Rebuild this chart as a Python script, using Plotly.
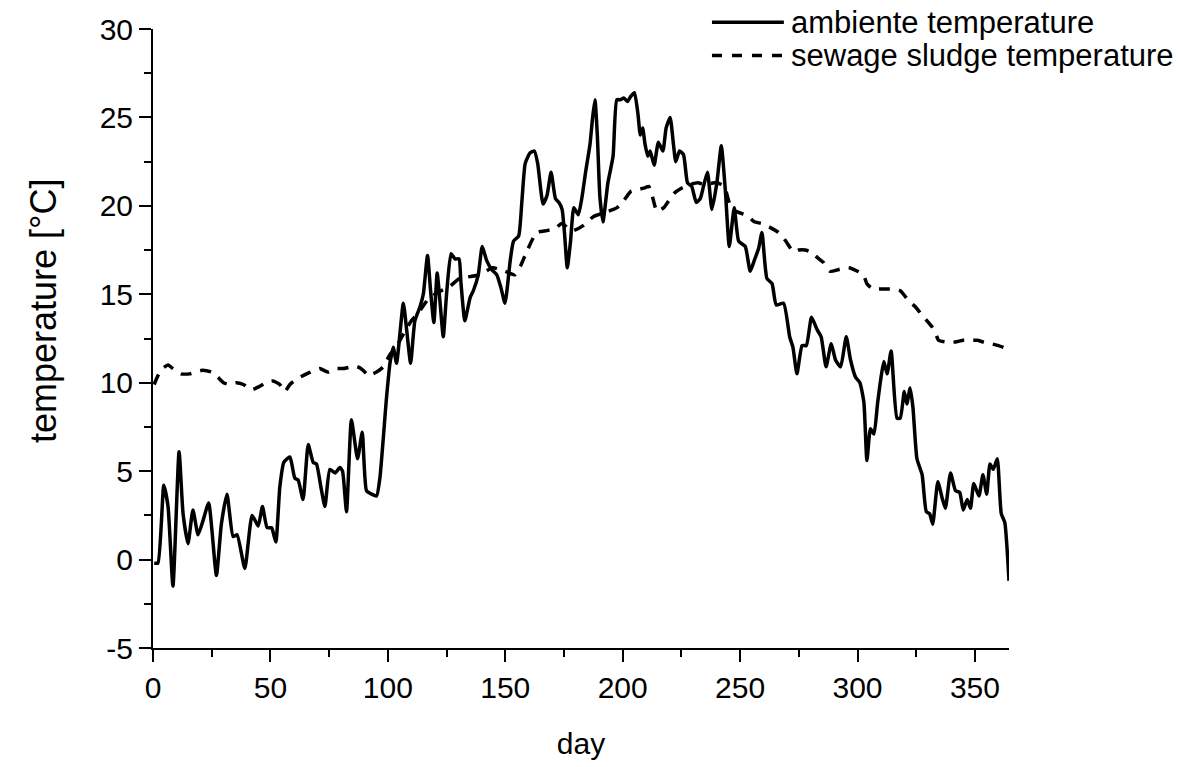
import plotly.graph_objects as go

# ---- data ----
amb_day = [0.5, 2.1, 4.6, 6.4, 8.5, 11.1, 12.8, 14.9, 17.0, 19.2, 21.3, 23.7, 27.0, 29.1, 31.5,
           34.1, 35.8, 39.1, 42.2, 44.8, 46.6, 48.6, 50.5, 52.3, 54.0, 55.7, 58.3, 60.4, 61.8,
           63.9, 66.1, 68.2, 69.6, 71.5, 73.2, 75.3, 77.5, 79.6, 80.7, 82.4, 84.5, 87.1, 89.1,
           90.9, 93.1, 95.2, 96.6, 99.4, 100.9, 102.3, 103.7, 106.6, 108.0, 109.7, 111.5, 113.7,
           115.1, 116.9, 118.2, 119.6, 121.0, 122.2, 123.6, 125.0, 126.9, 128.6, 130.3, 131.1,
           132.8, 135.0, 136.4, 138.5, 140.2, 142.1, 144.2, 146.4, 148.1, 149.9, 152.1, 153.5,
           155.7, 157.1, 158.5, 160.6, 162.4, 163.8, 166.1, 167.8, 169.5, 171.4, 172.8, 174.2,
           175.2, 176.4, 177.8, 179.2, 181.1, 182.8, 184.2, 186.1, 187.2, 188.2, 189.2, 190.3,
           191.6, 193.7, 195.9, 197.5, 199.0, 200.5, 202.0, 203.5, 205.0, 206.5, 207.5, 208.5,
           209.5, 210.7, 211.7, 213.4, 215.2, 217.1, 218.5, 220.2, 221.6, 222.6, 224.2, 225.9,
           227.6, 229.4, 231.3, 233.0, 234.4, 236.1, 238.0, 240.1, 242.0, 243.7, 245.4, 247.5,
           249.4, 252.2, 254.3, 256.0, 257.9, 259.3, 261.4, 263.6, 265.4, 268.5, 271.1, 272.5,
           274.2, 276.4, 278.2, 280.4, 282.8, 284.5, 286.6, 288.8, 290.6, 292.8, 295.2, 297.0,
           299.2, 301.0, 302.7, 304.0, 305.5, 307.0, 308.5, 310.0, 311.2, 312.6, 314.3, 316.8,
           318.2, 319.9, 321.0, 322.4, 323.6, 325.3, 327.5, 329.3, 330.7, 332.0, 334.2, 336.0,
           337.4, 339.6, 341.7, 343.5, 345.0, 346.7, 348.1, 349.5, 351.7, 353.4, 355.0, 356.4,
           357.8, 359.5, 361.2, 362.7, 364.5]
amb_temp = [-0.2, -0.2, 4.2, 3.0, -1.5, 6.1, 2.6, 0.9, 2.8, 1.4, 2.2, 3.2, -0.9, 2.0, 3.7,
            1.3, 1.4, -0.5, 2.5, 1.9, 3.0, 1.8, 1.8, 1.0, 4.1, 5.5, 5.8, 4.6, 4.5,
            3.4, 6.5, 5.5, 5.4, 4.1, 3.0, 5.1, 4.9, 5.2, 5.0, 2.7, 7.9, 5.7, 7.2,
            3.9, 3.7, 3.6, 4.6, 9.1, 11.1, 12.0, 11.1, 14.5, 13.0, 11.1, 13.5, 14.3,
            15.0, 17.2, 15.2, 13.4, 16.2, 14.6, 12.6, 15.0, 17.3, 17.0, 17.0, 15.7,
            13.5, 14.8, 15.2, 16.1, 17.7, 16.9, 16.4, 16.1, 15.4, 14.5, 16.9, 18.0,
            18.3, 20.3, 22.4, 23.0, 23.1, 22.4, 20.1, 20.6, 21.9, 20.4, 20.2, 19.8,
            18.5, 16.5, 18.0, 19.9, 19.5, 20.6, 21.9, 23.5, 25.0, 26.0, 24.0, 20.5,
            19.1, 21.3, 22.8, 26.0, 26.0, 26.1, 25.9, 26.2, 26.4, 25.2, 24.0, 24.4,
            23.5, 22.8, 23.1, 22.3, 23.6, 23.1, 24.4, 25.0, 23.5, 22.5, 23.1, 22.9,
            21.3, 21.1, 20.2, 20.4, 21.1, 21.9, 19.8, 21.3, 23.4, 20.9, 17.7, 19.9,
            18.0, 17.7, 16.3, 16.9, 17.6, 18.5, 15.9, 15.6, 14.4, 14.5, 12.6, 12.0,
            10.5, 12.1, 12.1, 13.7, 13.0, 12.6, 10.9, 12.2, 11.3, 10.9, 12.6, 11.3,
            10.3, 10.0, 8.9, 5.6, 7.4, 7.1, 8.8, 10.3, 11.2, 10.5, 11.8, 8.0,
            8.0, 9.5, 8.8, 9.7, 8.6, 5.7, 4.8, 2.7, 2.6, 2.0, 4.4, 3.5,
            2.9, 4.9, 3.9, 3.8, 2.8, 3.4, 2.9, 4.3, 3.6, 4.8, 3.7, 5.4,
            5.1, 5.7, 2.6, 2.1, -1.2]

sew_day = [0.5, 2.1, 4.0, 6.4, 8.5, 12.0, 15.6, 17.8, 21.0, 24.9, 27.7, 30.0, 32.7, 35.5, 38.5,
           41.9, 45.5, 48.0, 51.1, 54.0, 56.1, 58.3, 61.0, 63.9, 67.0, 71.0, 74.6, 78.0, 81.0,
           84.5, 87.0, 89.5, 91.6, 93.5, 95.2, 98.1, 100.9, 103.0, 106.0, 110.0, 112.7, 117.7,
           122.7, 126.0, 130.5, 135.0, 139.1, 144.7, 149.9, 154.1, 156.5, 159.1, 163.4, 167.7,
           171.0, 174.1, 177.0, 179.1, 183.3, 187.6, 191.9, 197.6, 200.5, 203.3, 206.0, 209.0,
           211.1, 212.5, 214.6, 217.5, 221.8, 225.0, 228.7, 232.0, 235.1, 239.0, 242.2, 244.0,
           246.4, 250.0, 253.5, 256.0, 259.2, 262.5, 266.3, 269.5, 272.7, 275.0, 277.7, 280.0,
           282.7, 285.5, 288.4, 292.0, 296.2, 300.0, 302.5, 304.0, 306.5, 310.0, 312.5, 316.0,
           318.2, 319.6, 322.0, 324.6, 327.0, 329.6, 331.5, 333.0, 334.5, 338.0, 341.6, 345.0,
           348.0, 350.9, 353.7, 357.0, 360.0, 362.2, 364.2]
sew_temp = [9.9, 10.4, 10.8, 11.0, 10.8, 10.5, 10.5, 10.6, 10.7, 10.6, 10.3, 10.0, 9.9, 10.0, 9.9,
            9.6, 9.8, 10.0, 10.1, 9.9, 9.5, 9.9, 10.2, 10.4, 10.6, 10.8, 10.6, 10.8, 10.8,
            10.9, 10.9, 10.7, 10.4, 10.5, 10.6, 10.9, 11.6, 11.9, 12.6, 13.5, 13.9, 14.8,
            15.2, 15.4, 15.9, 16.0, 16.1, 16.5, 16.3, 16.1, 16.6, 17.4, 18.5, 18.6,
            18.7, 19.0, 18.7, 18.6, 18.9, 19.4, 19.6, 19.9, 20.3, 20.8, 20.9, 21.0,
            21.1, 20.6, 19.7, 19.9, 20.7, 21.0, 21.2, 21.3, 21.2, 21.3, 21.2, 20.8,
            19.8, 19.6, 19.4, 19.1, 19.0, 18.8, 18.5, 18.0, 17.4, 17.5, 17.5, 17.4,
            17.1, 16.8, 16.3, 16.4, 16.5, 16.3, 16.1, 15.6, 15.3, 15.3, 15.3, 15.3,
            15.2, 15.0, 14.6, 14.3, 13.9, 13.5, 13.2, 12.9, 12.4, 12.3, 12.3, 12.4,
            12.4, 12.4, 12.3, 12.2, 12.1, 12.0, 11.9]

x_ticks = [0, 50, 100, 150, 200, 250, 300, 350]
x_ticktext = ["0", "50", "100", "150", "200", "250", "300", "350"]
y_ticks = [-5, 0, 5, 10, 15, 20, 25, 30]
y_ticktext = ["-5", "0", "5", "10", "15", "20", "25", "30"]
series_names = ["ambiente temperature", "sewage sludge temperature"]
x_title = "day"
y_title = "temperature [°C]"

FONT = "Liberation Sans, Arial, sans-serif"
FS = 30
LW = 3.5

fig = go.Figure()
fig.add_trace(go.Scatter(x=amb_day, y=amb_temp, mode="lines", name=series_names[0],
                         line=dict(color="black", width=LW, shape="spline", smoothing=0.5),
                         showlegend=False))
fig.add_trace(go.Scatter(x=sew_day, y=sew_temp, mode="lines", name=series_names[1],
                         line=dict(color="black", width=LW, dash="11px,9px", shape="spline", smoothing=0.5),
                         showlegend=False))

# manual legend (paper coordinates)
leg_x0, leg_x1, leg_tx = 0.653, 0.737, 0.743
leg_y = [1.011, 0.957]
fig.add_shape(type="line", xref="paper", yref="paper", x0=leg_x0, x1=leg_x1, y0=leg_y[0], y1=leg_y[0],
              line=dict(color="black", width=LW))
fig.add_shape(type="line", xref="paper", yref="paper", x0=leg_x0, x1=leg_x1, y0=leg_y[1], y1=leg_y[1],
              line=dict(color="black", width=LW, dash="10px,10px"))
for name, yy in zip(series_names, leg_y):
    fig.add_annotation(x=leg_tx, y=yy, xref="paper", yref="paper", text=name, showarrow=False,
                       xanchor="left", yanchor="middle", font=dict(family=FONT, size=31, color="black"))

# y axis title placed as rotated text (slightly above the axis centre, as in the reference)
fig.add_annotation(x=-0.128, y=0.545, xref="paper", yref="paper", text=y_title, showarrow=False,
                   textangle=-90, xanchor="center", yanchor="middle",
                   font=dict(family=FONT, size=36, color="black"))

axis_common = dict(showline=True, linecolor="black", linewidth=2, ticks="outside", ticklen=12,
                   tickwidth=2, tickcolor="black", showgrid=False, zeroline=False, mirror=False,
                   tickfont=dict(family=FONT, size=FS, color="black"))
fig.update_xaxes(range=[0, 364.5], tickvals=x_ticks, ticktext=x_ticktext,
                 minor=dict(ticks="outside", dtick=25, tick0=0, ticklen=7, tickwidth=2, tickcolor="black"),
                 title=dict(text=x_title, font=dict(family=FONT, size=FS, color="black"), standoff=30),
                 **axis_common)
fig.update_yaxes(range=[-5, 30], tickvals=y_ticks, ticktext=y_ticktext,
                 minor=dict(ticks="outside", dtick=2.5, tick0=0, ticklen=7, tickwidth=2, tickcolor="black"),
                 **axis_common)
fig.update_layout(width=1178, height=767, margin=dict(l=153, r=169, t=20, b=117),
                  plot_bgcolor="white", paper_bgcolor="white",
                  font=dict(family=FONT, size=FS, color="black"))
fig.write_html("out.html")
